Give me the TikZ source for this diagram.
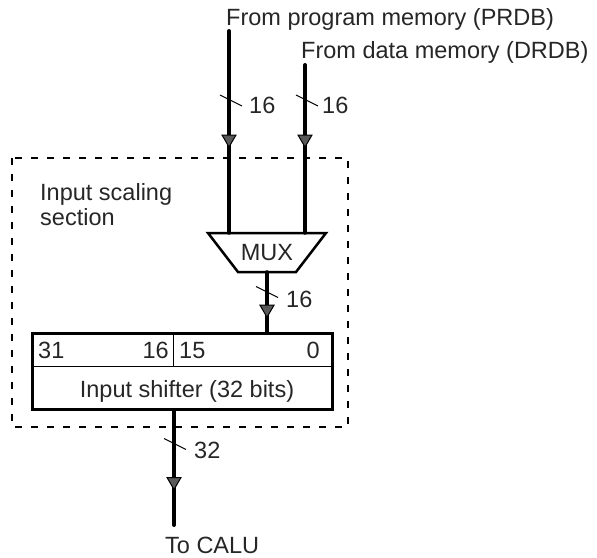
\documentclass[tikz,border=0pt]{standalone}
\usepackage{fontspec}
\setmainfont{Liberation Sans}
\usetikzlibrary{decorations.markings}
\tikzset{
  lbl/.style={font=\fontsize{23.5}{25}\selectfont, inner sep=0pt, text=black!85},
  bus/.style={line width=4pt, line cap=round},
  slashmark/.style={line width=1pt},
  midarrow/.style={postaction={decorate, decoration={markings,
      mark=at position #1 with {\filldraw[fill=black!65, draw=black, line width=1pt] (0pt,0pt) -- (-12pt,7pt) -- (-12pt,-7pt) -- cycle;}}}},
  boxline/.style={line width=3pt},
  dashbox/.style={line width=2.5pt, dash pattern=on 7pt off 9pt},
}
\begin{document}
\begin{tikzpicture}[x=1pt, y=-1pt]
\useasboundingbox (0,0) rectangle (597,557);

% texts at the top
\node[lbl, anchor=base west] (prdb) at (226,25) {From program memory (PRDB)};
\node[lbl, anchor=base west] (drdb) at (301,58) {From data memory (DRDB)};

% free line ends
\coordinate (p0) at (229,31);
\coordinate (d0) at (305,65);

% dashed section
\draw[dashbox] (12,158) rectangle (348,427);
\node[lbl, anchor=base west, align=left] (sect) at (40,225) {Input scaling\\section};

% MUX
\draw[line width=2.5pt, fill=white, line join=miter] (208,233) -- (326,233) -- (296,272) -- (238,272) -- cycle;
\node[lbl, minimum width=118pt, minimum height=39pt] (mux) at (267,252.5) {MUX};

% shifter
\node[draw, boxline, minimum width=300pt, minimum height=76pt, inner sep=0pt] (shift) at (182,371) {};
\draw[line width=1pt] (33.5,366) -- (330.5,366);
\draw[line width=1pt] (173,334.5) -- (173,366);
\node[lbl, anchor=base west] (b31) at (38,358) {31};
\node[lbl, anchor=base east] (b16) at (169,358) {16};
\node[lbl, anchor=base west] (b15) at (179,358) {15};
\node[lbl, anchor=base east] (b0) at (320,358) {0};
\node[lbl, anchor=base] (shlbl) at (187,397) {Input shifter (32 bits)};

% output
\coordinate (cout) at (174,525);
\node[lbl, anchor=base west] (calu) at (165,553) {To CALU};

% buses
\draw[bus, midarrow=116pt] (p0) -- (p0 |- mux.north);
\draw[bus, midarrow=82pt] (d0) -- (d0 |- mux.north);
\draw[bus, midarrow=45pt] (mux.south) -- (mux.south |- shift.north);
\draw[bus, midarrow=79pt] (cout |- shift.south) -- (cout);

% width marks
\draw[slashmark] (231,100.5) ++(-11,-5.5) -- ++(22,11);
\draw[slashmark] (307,100.5) ++(-11,-5.5) -- ++(22,11);
\draw[slashmark] (267,292) ++(-11,-5.5) -- ++(22,11);
\draw[slashmark] (175,444) ++(-11,-5.5) -- ++(22,11);
\node[lbl, anchor=base west] (w1) at (249,113) {16};
\node[lbl, anchor=base west] (w2) at (322,113) {16};
\node[lbl, anchor=base west] (w3) at (286,307) {16};
\node[lbl, anchor=base west] (w4) at (194,458) {32};
\end{tikzpicture}
\end{document}
